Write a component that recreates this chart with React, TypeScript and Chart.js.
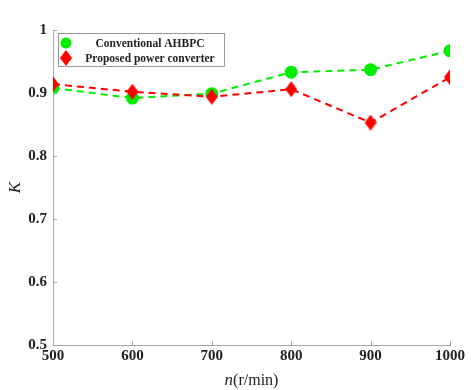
import React, { useEffect, useRef } from "react";
import { Chart, registerables } from "chart.js";

Chart.register(...registerables);

const speeds = [500, 600, 700, 800, 900, 1000];
const conventional = [0.908, 0.892, 0.899, 0.933, 0.937, 0.967];
const proposed = [0.914, 0.902, 0.894, 0.906, 0.853, 0.925];
const seriesNames = ["Conventional AHBPC", "Proposed power converter"];
const xTicks = [500, 600, 700, 800, 900, 1000];
const yTicks = [0.5, 0.6, 0.7, 0.8, 0.9, 1];

const GREEN = "#00ee00";
const RED = "#ff0000";
const AXIS = "#a8a8a8";
const SERIF = "'Liberation Serif', 'Times New Roman', serif";

function makeDiamond(color: string) {
  const c = document.createElement("canvas");
  c.width = 12;
  c.height = 16;
  const g = c.getContext("2d")!;
  g.fillStyle = color;
  g.beginPath();
  g.moveTo(6, 0);
  g.lineTo(12, 8);
  g.lineTo(6, 16);
  g.lineTo(0, 8);
  g.closePath();
  g.fill();
  return c;
}

const decorPlugin = {
  id: "decor",
  afterDraw(chart: any) {
    const ctx = chart.ctx;
    const xs = chart.scales.x;
    const ys = chart.scales.y;
    const area = chart.chartArea;
    ctx.save();
    ctx.strokeStyle = AXIS;
    ctx.lineWidth = 1;
    ctx.beginPath();
    xTicks.forEach((v) => {
      const px = Math.round(xs.getPixelForValue(v)) + 0.5;
      ctx.moveTo(px, area.bottom);
      ctx.lineTo(px, area.bottom - 4);
    });
    yTicks.forEach((v) => {
      const py = Math.round(ys.getPixelForValue(v)) + 0.5;
      ctx.moveTo(area.left, py);
      ctx.lineTo(area.left + 4, py);
    });
    ctx.stroke();

    ctx.fillStyle = "#222";
    ctx.textBaseline = "middle";
    const cx = (area.left + area.right) / 2;
    const ty = area.bottom + 36;
    ctx.font = `italic 17px ${SERIF}`;
    const nW = ctx.measureText("n").width;
    ctx.font = `16px ${SERIF}`;
    const restW = ctx.measureText("(r/min)").width;
    const startX = cx - (nW + restW) / 2;
    ctx.textAlign = "left";
    ctx.font = `italic 17px ${SERIF}`;
    ctx.fillText("n", startX, ty);
    ctx.font = `16px ${SERIF}`;
    ctx.fillText("(r/min)", startX + nW, ty);

    ctx.save();
    ctx.translate(16, (area.top + area.bottom) / 2);
    ctx.rotate(-Math.PI / 2);
    ctx.textAlign = "center";
    ctx.font = `italic 17px ${SERIF}`;
    ctx.fillText("K", 0, 0);
    ctx.restore();

    const bx = area.left + 5;
    const by = area.top + 3;
    const bw = 166;
    const bh = 33;
    ctx.fillStyle = "#fff";
    ctx.fillRect(bx, by, bw, bh);
    ctx.strokeStyle = "#999";
    ctx.lineWidth = 1;
    ctx.strokeRect(bx + 0.5, by + 0.5, bw, bh);
    const rows = [by + 10, by + 25];
    chart.data.datasets.forEach((ds: any, i: number) => {
      const my = rows[i];
      const mx = bx + 8;
      ctx.fillStyle = ds.borderColor;
      if (i === 0) {
        ctx.beginPath();
        ctx.arc(mx, my, 5.5, 0, Math.PI * 2);
        ctx.fill();
      } else {
        ctx.drawImage(ds.pointStyle, mx - 6, my - 8);
      }
      ctx.fillStyle = "#222";
      ctx.font = `bold 11.5px ${SERIF}`;
      ctx.textAlign = "center";
      ctx.fillText(ds.label, bx + 92, my + 1);
    });
    ctx.restore();
  },
};

export default function App() {
  const ref = useRef<HTMLCanvasElement | null>(null);
  useEffect(() => {
    document.body.style.margin = "0";
    const canvas = ref.current;
    if (!canvas) return;
    const diamond = makeDiamond(RED);
    const chart = new Chart(canvas, {
      type: "line",
      data: {
        datasets: [
          {
            label: seriesNames[0],
            data: speeds.map((s, i) => ({ x: s, y: conventional[i] })),
            borderColor: GREEN,
            backgroundColor: GREEN,
            pointBackgroundColor: GREEN,
            pointBorderColor: GREEN,
            pointStyle: "circle",
            pointRadius: 5.5,
            borderWidth: 2,
            borderDash: [7, 5],
            tension: 0,
            order: 2,
          },
          {
            label: seriesNames[1],
            data: speeds.map((s, i) => ({ x: s, y: proposed[i] })),
            borderColor: RED,
            backgroundColor: RED,
            pointBackgroundColor: RED,
            pointBorderColor: RED,
            pointStyle: diamond,
            pointRadius: 7,
            borderWidth: 2,
            borderDash: [7, 5],
            tension: 0,
            order: 1,
          },
        ],
      },
      options: {
        animation: false,
        responsive: false,
        maintainAspectRatio: false,
        layout: { padding: { top: 30, right: 21, left: 0, bottom: 0 } },
        plugins: {
          legend: { display: false },
          tooltip: { enabled: false },
        },
        scales: {
          x: {
            type: "linear",
            min: 500,
            max: 1000,
            afterBuildTicks: (s: any) => {
              s.ticks = xTicks.map((v) => ({ value: v }));
            },
            afterFit: (s: any) => {
              s.height = 45;
            },
            grid: { display: false, drawTicks: false },
            border: { display: true, color: AXIS, width: 1 },
            ticks: {
              color: "#222",
              padding: 2,
              font: { family: SERIF, size: 15, weight: "bold" },
              maxRotation: 0,
              callback: (v: any) => String(v),
            },
          },
          y: {
            type: "linear",
            min: 0.5,
            max: 1,
            afterBuildTicks: (s: any) => {
              s.ticks = yTicks.map((v) => ({ value: v }));
            },
            afterFit: (s: any) => {
              s.width = 53;
            },
            grid: { display: false, drawTicks: false },
            border: { display: true, color: AXIS, width: 1 },
            ticks: {
              color: "#222",
              padding: 6,
              font: { family: SERIF, size: 15, weight: "bold" },
              callback: (v: any) => String(Math.round(Number(v) * 10) / 10),
            },
          },
        },
      },
      plugins: [decorPlugin],
    } as any);
    return () => chart.destroy();
  }, []);
  return (
    <div style={{ width: 471, height: 390 }}>
      <canvas ref={ref} width={471} height={390} style={{ display: "block" }} />
    </div>
  );
}
